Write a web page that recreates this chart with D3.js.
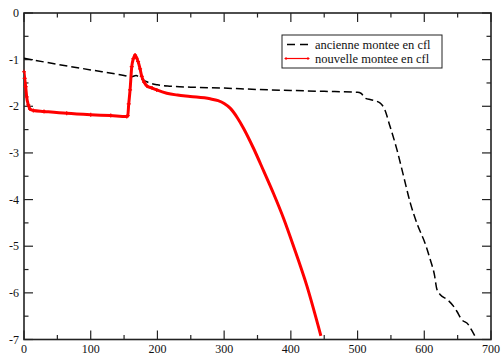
<!DOCTYPE html>
<html>
<head>
<meta charset="utf-8">
<script src="https://cdn.jsdelivr.net/npm/d3@7"></script>
<style>
html,body{margin:0;padding:0;background:#fff;}
svg{display:block;}
text{font-family:"Liberation Serif","Times New Roman",serif;}
</style>
</head>
<body>
<svg id="chart" width="503" height="355"></svg>
<script>
// ---- data ----
const oldX = [0, 50, 100, 150, 160, 168, 175, 185, 200, 220, 250, 300, 350, 400, 450, 500, 505, 512, 520, 534, 541, 548, 559, 569, 579, 590, 601, 609, 615, 619, 624, 635, 644, 649, 656, 666, 671, 676];
const oldY = [-0.97, -1.1, -1.22, -1.34, -1.37, -1.34, -1.40, -1.48, -1.54, -1.57, -1.59, -1.61, -1.64, -1.66, -1.68, -1.70, -1.72, -1.83, -1.86, -1.93, -2.08, -2.4, -2.93, -3.5, -4.07, -4.55, -4.93, -5.29, -5.6, -5.93, -6.04, -6.15, -6.29, -6.4, -6.57, -6.68, -6.8, -6.93];
const newX = [0, 1, 2.5, 4, 6.5, 9, 14, 30, 64, 100, 130, 154, 155.5, 157, 159, 161.5, 164, 166.5, 169, 171, 174, 176.5, 180, 184, 192, 199, 214, 230, 249, 279, 291, 300, 309, 320, 329, 344, 359, 374, 389, 404, 424, 445];
const newY = [-1.26, -1.4, -1.58, -1.8, -1.97, -2.06, -2.09, -2.11, -2.15, -2.18, -2.2, -2.22, -2.2, -1.95, -1.65, -1.15, -0.98, -0.9, -0.97, -1.04, -1.2, -1.36, -1.48, -1.56, -1.61, -1.65, -1.72, -1.76, -1.79, -1.84, -1.88, -1.94, -2.04, -2.25, -2.47, -2.9, -3.38, -3.87, -4.4, -5.0, -5.85, -6.92];
const xTicks = [0, 100, 200, 300, 400, 500, 600, 700];
const yTicks = [0, -1, -2, -3, -4, -5, -6, -7];
const seriesNames = ["ancienne montee en cfl", "nouvelle montee en cfl"];

// ---- layout ----
const L = 24, R = 491, T = 13, B = 339.5;
const svg = d3.select("#chart");
const x = d3.scaleLinear().domain([0, 700]).range([L, R]);
const y = d3.scaleLinear().domain([-7, 0]).range([B, T]);

const axisColor = "#222";
const minorX = d3.range(50, 700, 100);
const minorY = d3.range(-6.5, 0, 1);

// frame
svg.append("rect").attr("x", L).attr("y", T).attr("width", R - L).attr("height", B - T)
  .attr("fill", "none").attr("stroke", axisColor).attr("stroke-width", 1.6);

function tickLines(g, vals, len, orient) {
  vals.forEach(v => {
    if (orient === "bottom") g.append("line").attr("x1", x(v)).attr("x2", x(v)).attr("y1", B).attr("y2", B - len);
    if (orient === "top") g.append("line").attr("x1", x(v)).attr("x2", x(v)).attr("y1", T).attr("y2", T + len);
    if (orient === "left") g.append("line").attr("y1", y(v)).attr("y2", y(v)).attr("x1", L).attr("x2", L + len);
    if (orient === "right") g.append("line").attr("y1", y(v)).attr("y2", y(v)).attr("x1", R).attr("x2", R - len);
  });
}
const tg = svg.append("g").attr("stroke", axisColor).attr("stroke-width", 1.2);
["bottom", "top"].forEach(o => { tickLines(tg, xTicks, 9, o); tickLines(tg, minorX, 4.5, o); });
["left", "right"].forEach(o => { tickLines(tg, yTicks, 9, o); tickLines(tg, minorY, 4.5, o); });

// tick labels
svg.append("g").selectAll("text").data(xTicks).join("text")
  .attr("x", d => x(d)).attr("y", 353).attr("text-anchor", "middle")
  .attr("font-size", 12).attr("fill", "#111").text(d => d);
svg.append("g").selectAll("text").data(yTicks).join("text")
  .attr("x", 19).attr("y", d => y(d) + 4).attr("text-anchor", "end")
  .attr("font-size", 12).attr("fill", "#111").text(d => d);

// lines
const clip = svg.append("clipPath").attr("id", "clip").append("rect")
  .attr("x", L).attr("y", T).attr("width", R - L).attr("height", B - T);

const lineGen = d3.line().x(d => x(d[0])).y(d => y(d[1])).curve(d3.curveMonotoneX);
const oldData = oldX.map((v, i) => [v, oldY[i]]);
const newData = newX.map((v, i) => [v, newY[i]]);

svg.append("path").datum(oldData).attr("d", lineGen)
  .attr("fill", "none").attr("stroke", "#000").attr("stroke-width", 1.5)
  .attr("stroke-dasharray", "8,4").attr("clip-path", "url(#clip)");

svg.append("path").datum(newData).attr("d", lineGen)
  .attr("fill", "none").attr("stroke", "#ff0000").attr("stroke-width", 3)
  .attr("stroke-linejoin", "round").attr("clip-path", "url(#clip)");

// small markers on the red series
svg.append("g").selectAll("path").data(newData.filter(d => d[0] < 200)).join("path")
  .attr("d", d => `M${x(d[0]) - 2},${y(d[1])}h4M${x(d[0])},${y(d[1]) - 2}v4`)
  .attr("stroke", "#ff0000").attr("stroke-width", 1.2);

// legend
const lg = svg.append("g");
lg.append("rect").attr("x", 282).attr("y", 35).attr("width", 160).attr("height", 33)
  .attr("fill", "#fff").attr("stroke", "#222").attr("stroke-width", 1);
lg.append("line").attr("x1", 287).attr("x2", 308).attr("y1", 44.5).attr("y2", 44.5)
  .attr("stroke", "#000").attr("stroke-width", 1.5).attr("stroke-dasharray", "8,5");
lg.append("line").attr("x1", 286).attr("x2", 308).attr("y1", 58.5).attr("y2", 58.5)
  .attr("stroke", "#ff0000").attr("stroke-width", 1.2);
[286, 308].forEach(px => lg.append("path").attr("d", `M${px - 1.5},58.5h3M${px},57v3`)
  .attr("stroke", "#ff0000").attr("stroke-width", 1));
lg.append("text").attr("x", 315).attr("y", 48.5).attr("font-size", 12.5).attr("fill", "#111").text(seriesNames[0]);
lg.append("text").attr("x", 315).attr("y", 62.5).attr("font-size", 12.5).attr("fill", "#111").text(seriesNames[1]);
</script>
</body>
</html>
